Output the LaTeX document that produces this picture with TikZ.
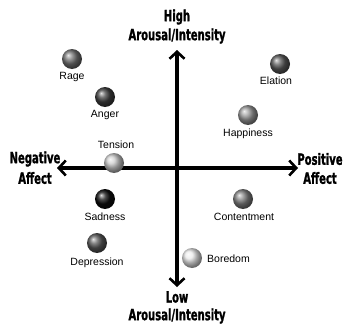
\documentclass[tikz,border=0pt]{standalone}
\usepackage{fontspec}
\setmainfont{Liberation Sans}
\newfontfamily\headfont[FakeStretch=0.72,FakeBold=1.2]{DejaVu Sans Condensed Bold}
\usetikzlibrary{arrows.meta}
\begin{document}
\begin{tikzpicture}[x=1pt,y=-1pt,
  axis/.style={line width=4pt,-{Straight Barb[length=7pt,width=15pt,line width=2.6pt]}},
  head/.style={font=\headfont\fontsize{15.5}{17}\selectfont,align=center,inner sep=0pt},
  lbl/.style={font=\fontsize{10.5}{12}\selectfont,inner sep=0pt},
  sphere/.style={circle,minimum size=20pt,inner sep=0pt,ball color=#1,shading=ball},
]
\useasboundingbox (0,0) rectangle (343,324);
\fill[white] (0,0) rectangle (343,324);
\coordinate (c) at (177,168);
\coordinate (top) at (177,50);
\coordinate (bot) at (177,287);
\coordinate (lft) at (57,168);
\coordinate (rgt) at (298,168);
\draw[axis] (c) -- (top);
\draw[axis] (c) -- (bot);
\draw[axis] (c) -- (lft);
\draw[axis] (c) -- (rgt);
\node[head] (high) at (177,17) {High};
\node[head] (hiar) at (177,36) {Arousal/Intensity};
\node[head] (low) at (177,297) {Low};
\node[head] (loar) at (177,316) {Arousal/Intensity};
\node[head] (neg) at (35,159) {Negative};
\node[head] (nega) at (35,178) {Affect};
\node[head] (pos) at (320,159) {Positive};
\node[head] (posa) at (320,178) {Affect};
% spheres
\node[sphere=black!55] (rage) at (72,59) {};
\node[lbl] (ragel) at (72,77) {Rage};
\node[sphere=black!75] (anger) at (105,97) {};
\node[lbl] (angerl) at (105,115) {Anger};
\node[sphere=black!65] (elation) at (280,64) {};
\node[lbl] (elationl) at (276,81) {Elation};
\node[sphere=black!40] (happy) at (248,115) {};
\node[lbl] (happyl) at (248,134) {Happiness};
\node[lbl] (tensionl) at (116,145) {Tension};
\node[sphere=black!20] (tension) at (114,163) {};
\node[sphere=black!95] (sad) at (105,199) {};
\node[lbl] (sadl) at (105,217) {Sadness};
\node[sphere=black!50] (cont) at (243,199) {};
\node[lbl] (contl) at (244,217) {Contentment};
\node[sphere=black!65] (dep) at (97,243) {};
\node[lbl] (depl) at (97,263) {Depression};
\node[sphere=black!8] (bore) at (192,258) {};
\node[lbl,anchor=west] (borel) at (207,259) {Boredom};
\end{tikzpicture}
\end{document}
